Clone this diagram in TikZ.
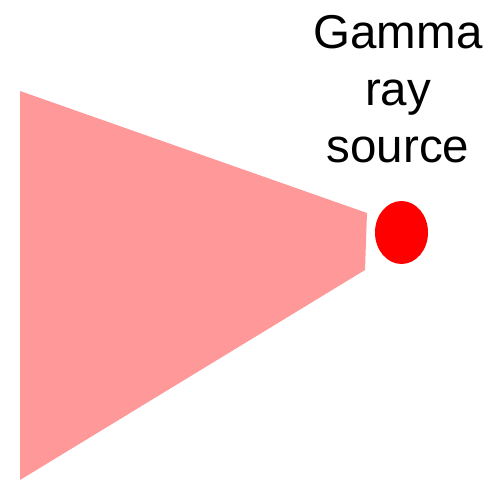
\documentclass[tikz,border=0pt]{standalone}
\usepackage{fontspec}
\setmainfont{Liberation Sans}
\usetikzlibrary{shapes.geometric}
\definecolor{beampink}{RGB}{255,153,153}
\tikzset{
  beam/.style  = {fill=beampink, draw=none},
  srcdot/.style= {ellipse, fill=red, draw=none, inner sep=0pt,
                  minimum width=53pt, minimum height=63pt},
  lbl/.style   = {align=center, inner sep=0pt,
                  font=\fontsize{47.5}{57}\selectfont},
}
\begin{document}
\begin{tikzpicture}[x=1pt, y=-1pt]
\useasboundingbox (0,0) rectangle (490,483);
% cone of rays
\fill[beam] (20,91) -- (367,213) -- (365,270) -- (20,480) -- cycle;
% the source
\node[srcdot] (src) at (401.5,232.5) {};
\node[lbl, anchor=base] (name) at (398,162) {Gamma\\ray\\source};
\end{tikzpicture}
\end{document}
